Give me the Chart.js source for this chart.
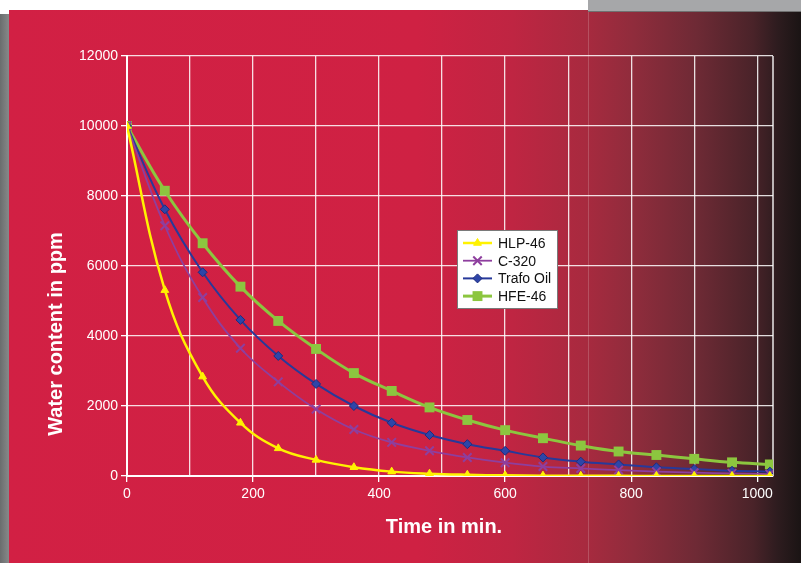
<!DOCTYPE html>
<html lang="en">
<head>
    <meta charset="UTF-8">
    <title>Water content vs time</title>
    <script src="https://cdn.jsdelivr.net/npm/chart.js"></script>
    <style>
        body { margin: 0; background: #fff; }
        canvas { display: block; }
    </style>
</head>
<body>

    <canvas id="grafico" width="801" height="563"></canvas>

    <script>
        // dati (minuti, ppm)
        const tempi = [0, 60, 120, 180, 240, 300, 360, 420, 480, 540, 600, 660, 720, 780, 840, 900, 960, 1020];
        const hlp46 = [10000, 5310, 2840, 1520, 790, 460, 250, 125, 65, 35, 18, 10, 6, 4, 3, 2, 1, 1];
        const c320 = [10000, 7150, 5100, 3650, 2690, 1910, 1330, 960, 720, 530, 380, 270, 215, 170, 125, 95, 75, 55];
        const trafoOil = [10000, 7620, 5820, 4460, 3430, 2630, 2000, 1520, 1170, 910, 720, 530, 410, 330, 250, 200, 150, 125];
        const hfe46 = [10000, 8150, 6650, 5410, 4430, 3630, 2940, 2430, 1960, 1600, 1310, 1080, 870, 700, 600, 490, 390, 330];
        const nomiSerie = ['HLP-46', 'C-320', 'Trafo Oil', 'HFE-46'];
        const tickX = [0, 100, 200, 300, 400, 500, 600, 700, 800, 900, 1000];

        const FONT = "'Liberation Sans', Arial, sans-serif";

        function punti(valori) {
            return tempi.map((t, i) => ({ x: t, y: valori[i] }));
        }

        // sfondo rosso con sfumatura scura a destra
        const sfondo = {
            id: 'sfondo',
            beforeDraw(chart) {
                const c = chart.ctx;
                const W = chart.width, H = chart.height;
                c.save();
                c.fillStyle = '#ffffff';
                c.fillRect(0, 0, W, H);
                // ombra grigia a sinistra
                const gs = c.createLinearGradient(0, 0, 10, 0);
                gs.addColorStop(0, '#6a6c6d');
                gs.addColorStop(1, '#8a8c8d');
                c.fillStyle = gs;
                c.fillRect(0, 14, 10, H - 14);
                // pannello rosso
                const g = c.createLinearGradient(0, 0, W, 0);
                g.addColorStop(0, '#d22044');
                g.addColorStop(0.52, '#cf2143');
                g.addColorStop(0.64, '#bf2542');
                g.addColorStop(0.73, '#a82a3f');
                g.addColorStop(0.79, '#902c3c');
                g.addColorStop(0.87, '#6e2a35');
                g.addColorStop(0.94, '#4a2329');
                g.addColorStop(0.97, '#2e1c1f');
                g.addColorStop(1, '#1a1414');
                c.fillStyle = g;
                c.fillRect(9, 10, W - 9, H - 10);
                // barra grigia in alto a destra
                c.fillStyle = '#a6a7a9';
                c.fillRect(588, 0, W - 588, 11);
                c.fillStyle = '#707070';
                c.fillRect(588, 11, W - 588, 1);
                // linea verticale chiara
                c.fillStyle = 'rgba(255,255,255,0.18)';
                c.fillRect(588, 12, 1, H - 12);
                c.restore();
            },
            beforeDatasetsDraw(chart) {
                const c = chart.ctx;
                const a = chart.chartArea;
                c.save();
                c.strokeStyle = 'rgba(255,255,255,0.9)';
                c.lineWidth = 1.5;
                c.beginPath();
                c.moveTo(a.right, a.top);
                c.lineTo(a.right, a.bottom);
                c.stroke();
                c.restore();
            }
        };

        // titoli degli assi e legenda dentro il grafico
        const extra = {
            id: 'extra',
            afterDraw(chart) {
                const c = chart.ctx;
                c.save();
                c.fillStyle = '#ffffff';
                c.font = 'bold 20px ' + FONT;
                c.textAlign = 'center';
                c.textBaseline = 'middle';
                c.fillText('Time in min.', 444, 527);
                c.translate(56, 334);
                c.rotate(-Math.PI / 2);
                c.fillText('Water content in ppm', 0, 0);
                c.restore();

                // legenda
                c.save();
                c.fillStyle = '#ffffff';
                c.fillRect(457, 230, 100, 78);
                c.strokeStyle = '#7a7a7a';
                c.lineWidth = 1;
                c.strokeRect(457.5, 230.5, 100, 78);
                c.font = '14px ' + FONT;
                c.textAlign = 'left';
                c.textBaseline = 'middle';
                chart.data.datasets.forEach((ds, i) => {
                    const y = 243 + i * 17.7;
                    c.strokeStyle = ds.borderColor;
                    c.lineWidth = ds.borderWidth;
                    c.beginPath();
                    c.moveTo(463, y);
                    c.lineTo(492, y);
                    c.stroke();
                    c.fillStyle = ds.pointBackgroundColor;
                    c.strokeStyle = ds.pointBorderColor;
                    c.lineWidth = ds.pointBorderWidth;
                    Chart.helpers.drawPoint(c, {
                        pointStyle: ds.pointStyle,
                        radius: ds.pointRadius,
                        borderWidth: ds.pointBorderWidth
                    }, 477.5, y);
                    c.fillStyle = '#111111';
                    c.fillText(ds.label, 498, y + 1);
                });
                c.restore();
            }
        };

        const ctx = document.getElementById('grafico').getContext('2d');
        const serie = [
            { label: nomiSerie[0], data: punti(hlp46), borderColor: '#fff200', backgroundColor: '#fff200',
              borderWidth: 2.5, pointStyle: 'triangle', pointRadius: 4.5, pointBorderWidth: 1, pointBorderColor: '#fff200' },
            { label: nomiSerie[1], data: punti(c320), borderColor: '#8e3f9e', backgroundColor: '#8e3f9e',
              borderWidth: 1.8, pointStyle: 'crossRot', pointRadius: 6, pointBorderWidth: 2, pointBorderColor: '#8e3f9e' },
            { label: nomiSerie[2], data: punti(trafoOil), borderColor: '#27399a', backgroundColor: '#2e45a8',
              borderWidth: 2, pointStyle: 'rectRot', pointRadius: 4.5, pointBorderWidth: 1, pointBorderColor: '#1d2c80' },
            { label: nomiSerie[3], data: punti(hfe46), borderColor: '#8cc63f', backgroundColor: '#8cc63f',
              borderWidth: 3, pointStyle: 'rect', pointRadius: 7, pointBorderWidth: 0, pointBorderColor: '#8cc63f' }
        ];

        const chart = new Chart(ctx, {
            type: 'line',
            data: { datasets: serie.map(s => Object.assign({ tension: 0.4, fill: false, pointBackgroundColor: s.backgroundColor }, s)) },
            options: {
                responsive: false,
                animation: false,
                devicePixelRatio: 1,
                layout: { padding: { top: 56, right: 28, left: 0, bottom: 0 } },
                plugins: { legend: { display: false }, tooltip: { enabled: false } },
                scales: {
                    x: {
                        type: 'linear',
                        min: 0,
                        max: 1025,
                        afterFit(scale) { scale.height = 87; },
                        afterBuildTicks(scale) { scale.ticks = tickX.map(v => ({ value: v })); },
                        ticks: {
                            color: '#ffffff',
                            font: { family: FONT, size: 14 },
                            padding: 4,
                            maxRotation: 0,
                            autoSkip: false,
                            callback: v => (v % 200 === 0 ? String(v) : '')
                        },
                        grid: {
                            color: 'rgba(255,255,255,0.85)',
                            lineWidth: 1.3,
                            tickLength: 6,
                            tickColor: c => (c.tick && c.tick.value % 200 === 0 ? '#ffffff' : 'rgba(0,0,0,0)')
                        },
                        border: { color: '#ffffff', width: 2 }
                    },
                    y: {
                        min: 0,
                        max: 12000,
                        afterFit(scale) { scale.width = 127; },
                        ticks: {
                            stepSize: 2000,
                            color: '#ffffff',
                            font: { family: FONT, size: 14 },
                            padding: 3,
                            callback: v => String(v)
                        },
                        grid: {
                            color: 'rgba(255,255,255,0.85)',
                            lineWidth: 1.3,
                            tickLength: 6,
                            tickColor: '#ffffff'
                        },
                        border: { color: '#ffffff', width: 2 }
                    }
                }
            },
            plugins: [sfondo, extra]
        });
    </script>

</body>
</html>
